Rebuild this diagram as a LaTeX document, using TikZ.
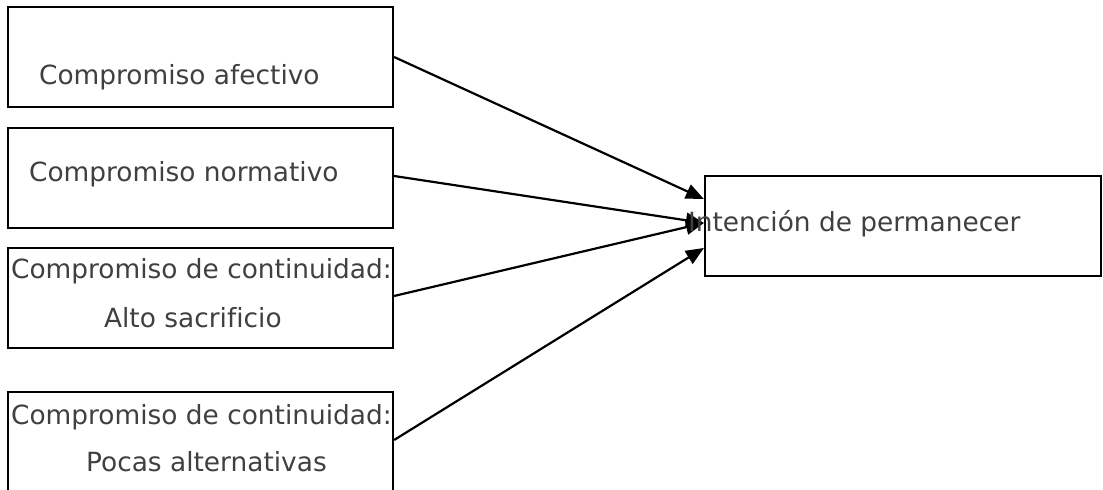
\documentclass[tikz,border=0pt]{standalone}
\usepackage{fontspec}
\setmainfont[Ligatures=NoCommon]{DejaVu Sans}
\usetikzlibrary{arrows.meta}
\definecolor{txtgray}{RGB}{64,64,64}
\begin{document}
\begin{tikzpicture}[x=0.5pt,y=-0.5pt,>={Triangle[length=9pt,width=7.5pt]},line width=1.1pt,
	box/.style={draw,minimum width=192.5pt,minimum height=50pt,inner sep=0pt},
	lbl/.style={anchor=base west,inner sep=0pt,text=txtgray,font=\fontsize{13.2pt}{15pt}\selectfont}]
	\useasboundingbox (0,0) rectangle (1103,490);
	\clip (0,0) rectangle (1103,490);
	% boxes
	\node[box] (afect) at (200.5,57) {};
	\node[box] (norm) at (200.5,178) {};
	\node[box] (sacr) at (200.5,298) {};
	\node[box,minimum height=54pt] (alter) at (200.5,446) {};
	\node[box,minimum width=198pt] (perm) at (903,226) {};
	% arrows
	\draw[->] (afect.east) -- ([yshift=13.5pt]perm.west);
	\draw[->] ([yshift=1pt]norm.east) -- ([yshift=1.5pt]perm.west);
	\draw[->] ([yshift=1pt]sacr.east) -- ([yshift=1.5pt]perm.west);
	\draw[->] ([yshift=3pt]alter.east) -- ([yshift=-11pt]perm.west);
	% texts
	\node[lbl] (tafect) at (38,85) {Compromiso afectivo};
	\node[lbl] (tnorm) at (28,182) {Compromiso normativo};
	\node[lbl] (tsacr) at (10,279) {Compromiso de continuidad:};
	\node[lbl] (tsacrb) at (103,328) {Alto sacrificio};
	\node[lbl] (talter) at (10,425) {Compromiso de continuidad:};
	\node[lbl] (talterb) at (85,472) {Pocas alternativas};
	\node[lbl] (tperm) at (687,232) {Intención de permanecer};
\end{tikzpicture}
\end{document}
